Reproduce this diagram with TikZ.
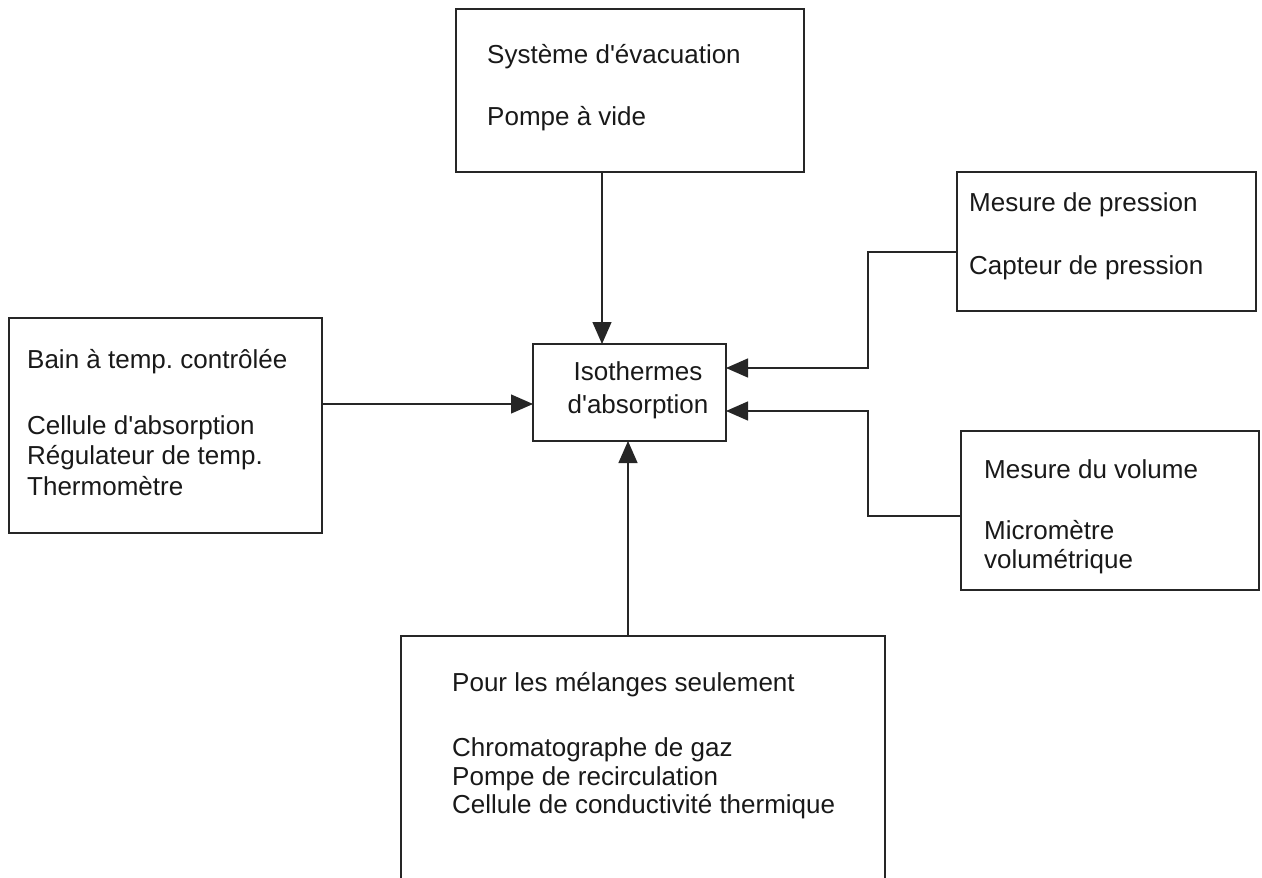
\documentclass[tikz,border=0pt]{standalone}
\usepackage{fontspec}
\setmainfont{Liberation Sans}[Ligatures=TeXOff]
\frenchspacing
\usetikzlibrary{arrows.meta}
\tikzset{
  boxline/.style={draw=black!85, line width=1.3pt, rectangle, inner sep=0pt, outer sep=0pt, anchor=north west},
  lbl/.style={inner sep=0pt, anchor=base west, font=\fontsize{26}{30}\selectfont, text=black!90},
  clbl/.style={inner sep=0pt, anchor=base, font=\fontsize{26}{30}\selectfont, text=black!90},
  conn/.style={draw=black!85, line width=1.3pt},
  arr/.style={conn, -{Triangle[length=22pt,width=19pt]}},
}
\begin{document}
\begin{tikzpicture}[x=1pt,y=-1pt]
\useasboundingbox (0,0) rectangle (1262,878);
% boxes
\node[boxline, minimum width=348pt, minimum height=163pt] (top) at (456,9) {};
\node[boxline, minimum width=193pt, minimum height=97pt] (cen) at (533,344) {};
\node[boxline, minimum width=299pt, minimum height=139pt] (rt) at (957,172) {};
\node[boxline, minimum width=298pt, minimum height=159pt] (rb) at (961,431) {};
\node[boxline, minimum width=313pt, minimum height=215pt] (lf) at (9,318) {};
\node[inner sep=0pt, outer sep=0pt, anchor=north west, minimum width=484pt, minimum height=250pt] (bt) at (401,636) {};
\draw[conn] (bt.south west) -- (bt.north west) -- (bt.north east) -- (bt.south east);
% texts
\node[lbl] (t1) at (487,63) {Système d'évacuation};
\node[lbl] (t2) at (487,125) {Pompe à vide};
\node[clbl] (c1) at (638,380) {Isothermes};
\node[clbl] (c2) at (638,413) {d'absorption};
\node[lbl] (r1) at (969,211) {Mesure de pression};
\node[lbl] (r2) at (969,274) {Capteur de pression};
\node[lbl] (v1) at (984,478) {Mesure du volume};
\node[lbl] (v2) at (984,539) {Micromètre};
\node[lbl] (v3) at (984,568) {volumétrique};
\node[lbl] (l1) at (27,368) {Bain à temp. contrôlée};
\node[lbl] (l2) at (27,434) {Cellule d'absorption};
\node[lbl] (l3) at (27,464) {Régulateur de temp.};
\node[lbl] (l4) at (27,495) {Thermomètre};
\node[lbl] (b1) at (452,691) {Pour les mélanges seulement};
\node[lbl] (b2) at (452,756) {Chromatographe de gaz};
\node[lbl] (b3) at (452,785) {Pompe de recirculation};
\node[lbl] (b4) at (452,813) {Cellule de conductivité thermique};
% connectors
\draw[arr] (602,0 |- top.south) -- (602,0 |- cen.north);
\draw[arr] (lf.east |- 0,404) -- (cen.west |- 0,404);
\draw[arr] (628,0 |- bt.north) -- (628,0 |- cen.south);
\draw[arr] (rt.west |- 0,252) -- (868,252) -- (868,368) -- (cen.east |- 0,368);
\draw[arr] (rb.west |- 0,516) -- (868,516) -- (868,411) -- (cen.east |- 0,411);
\end{tikzpicture}
\end{document}
